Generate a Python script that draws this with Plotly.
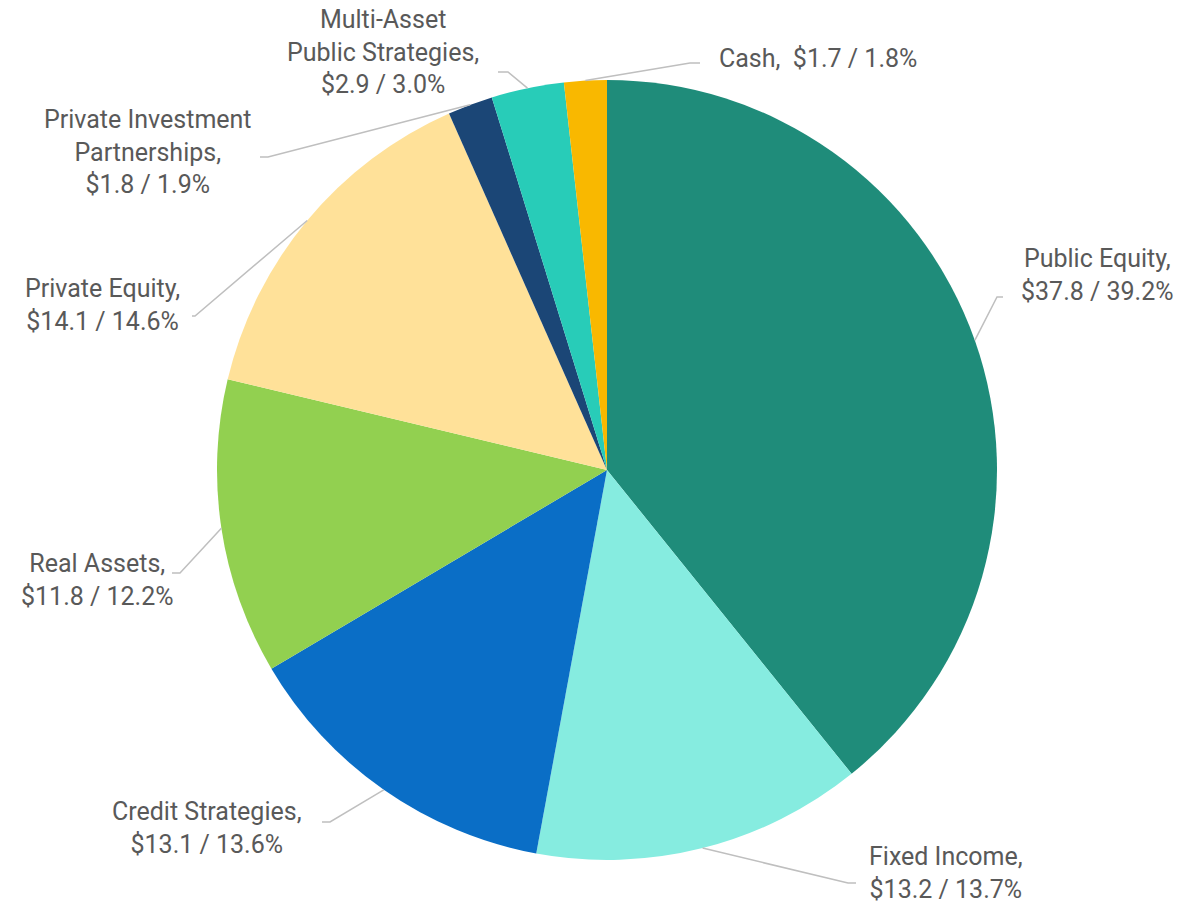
import math
import plotly.graph_objects as go

# ---------------- data ----------------
categories = ["Public Equity", "Fixed Income", "Credit Strategies", "Real Assets",
              "Private Equity", "Private Investment Partnerships",
              "Multi-Asset Public Strategies", "Cash"]
amounts = [37.8, 13.2, 13.1, 11.8, 14.1, 1.8, 2.9, 1.7]
percents = [39.2, 13.7, 13.6, 12.2, 14.6, 1.9, 3.0, 1.8]
label_names = ["Public Equity,", "Fixed Income,", "Credit Strategies,", "Real Assets,",
               "Private Equity,", "Private Investment<br>Partnerships,",
               "Multi-Asset<br>Public Strategies,", "Cash, "]
colors = ["#1f8c7a", "#86ece0", "#0a6ec6", "#92d050", "#ffe199",
          "#1b4676", "#28ccb8", "#f9b800"]

# ---------------- layout config ----------------
W, H = 1202, 903
CX, CY, R = 607, 470, 390
label_pos = [(1097, 275), (946, 873), (207, 828), (97, 580),
             (103, 305), (148, 152), (383, 52), (818, 58)]
elbows = [((997, 297), (1003, 297)), ((848, 883), (856, 883)),
          ((330, 822), (322, 822)), ((180, 573), (172, 573)),
          ((195, 316), (192, 316)), ((268, 157), (260, 157)),
          ((508, 72), (498, 72)), ((690, 63), (700, 63))]
single_line = [False, False, False, False, False, False, False, True]

def px(x):
    return x / W

def py(y):
    return 1 - y / H

fig = go.Figure(go.Pie(
    labels=categories,
    values=amounts,
    sort=False,
    direction="clockwise",
    rotation=0,
    marker=dict(colors=colors, line=dict(width=0)),
    textinfo="none",
    hoverinfo="label+value+percent",
    domain=dict(x=[px(CX - R), px(CX + R)], y=[py(CY + R), py(CY - R)]),
    showlegend=False,
))

total = sum(amounts)
annotations = []
shapes = []
cum = 0.0
for i, (name, amt, pct) in enumerate(zip(label_names, amounts, percents)):
    mid = (cum + amt / 2) / total * 2 * math.pi
    cum += amt
    ex = CX + R * math.sin(mid)
    ey = CY - R * math.cos(mid)
    value_txt = f"${amt:.1f} / {pct:.1f}%"
    if single_line[i]:
        txt = f"{name} {value_txt}"
    else:
        txt = f"{name}<br>{value_txt}"
    lx, ly = label_pos[i]
    annotations.append(dict(
        x=px(lx), y=py(ly), xref="paper", yref="paper",
        text=txt, showarrow=False, xanchor="center", yanchor="middle",
        align="center", font=dict(family="Roboto", size=25, color="#595959"),
    ))
    (e1x, e1y), (e2x, e2y) = elbows[i]
    path = (f"M {px(ex)},{py(ey)} L {px(e1x)},{py(e1y)} L {px(e2x)},{py(e2y)}")
    shapes.append(dict(type="path", xref="paper", yref="paper", path=path,
                       line=dict(color="#bfbfbf", width=1.5)))

fig.update_layout(
    width=W, height=H,
    margin=dict(l=0, r=0, t=0, b=0),
    paper_bgcolor="white", plot_bgcolor="white",
    annotations=annotations,
    shapes=shapes,
)
fig.write_html("out.html",
               config={"displayModeBar": False},
               post_script="document.body.style.margin='0';document.body.style.overflow='hidden';")
